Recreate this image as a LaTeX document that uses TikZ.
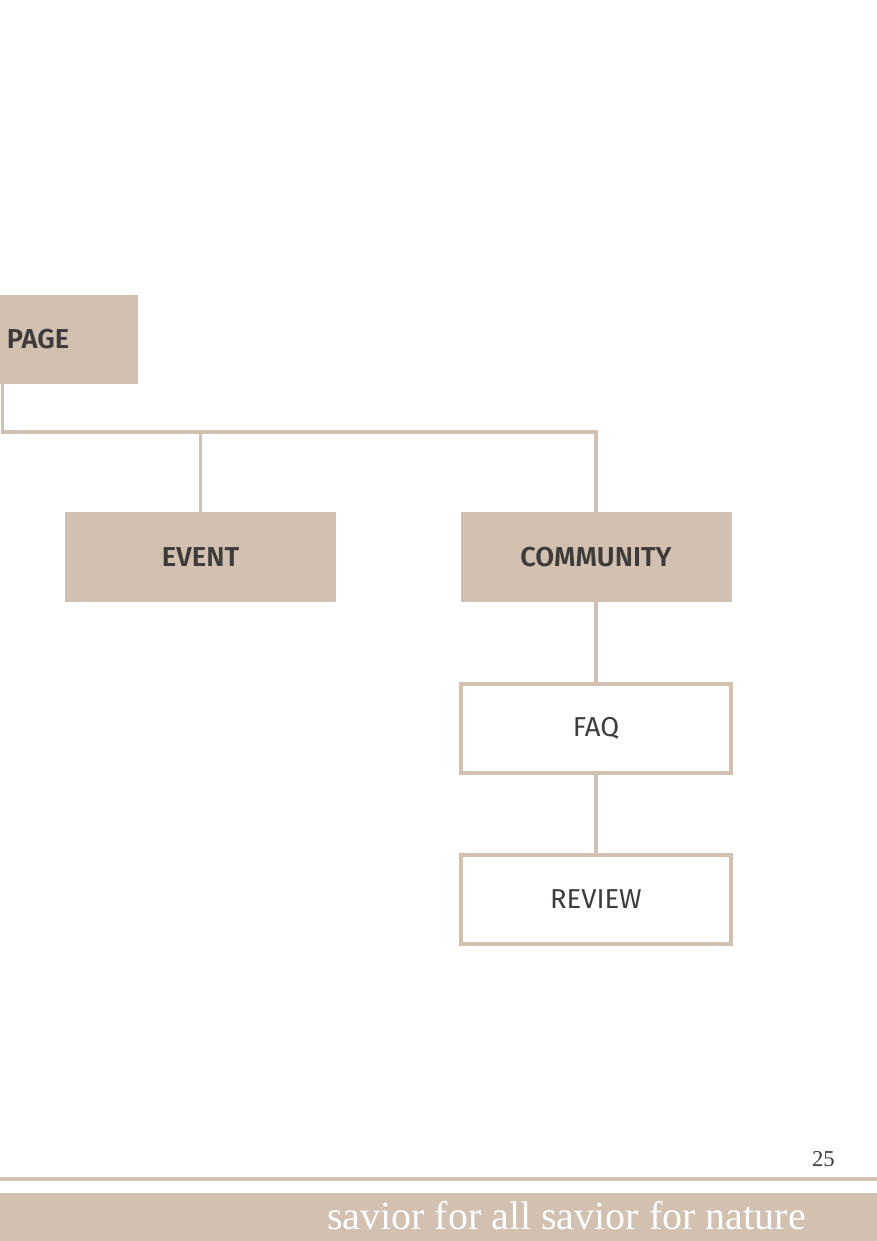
\documentclass[tikz,border=0pt]{standalone}
\usepackage{fontspec}
\setmainfont{Fira Sans}[BoldFont={Fira Sans SemiBold}]
\newfontfamily\footerfont{Liberation Serif}
\usetikzlibrary{positioning}

\definecolor{sand}{HTML}{D2C0B0}
\definecolor{ink}{HTML}{403B3B}
\newdimen\pxu \pxu=0.75pt

\tikzset{
  menu/.style={fill=sand, text=ink, font=\fontsize{20.5}{24}\selectfont\bfseries,
    minimum width=271\pxu, minimum height=90\pxu, inner sep=0pt, outer sep=0pt},
  submenu/.style={draw=sand, line width=4\pxu, fill=white, text=ink,
    font=\fontsize{20.5}{24}\selectfont,
    minimum width=270\pxu, minimum height=89\pxu, inner sep=0pt, outer sep=0pt},
  link/.style={draw=sand, line width=3.5\pxu},
}

\begin{document}
\begin{tikzpicture}[x=0.75pt, y=-0.75pt, node distance=82\pxu]
    \useasboundingbox (0,0) rectangle (877,1241);

    \node[menu, anchor=north west, minimum width=138\pxu, minimum height=89\pxu,
          text width=124\pxu, align=left, inner xsep=7\pxu] (page) at (0,295) {PAGE};
    \node[menu] (event) at (200.5,557) {EVENT};
    \node[menu] (comm) at (596,557) {COMMUNITY};
    \node[submenu, below=of comm] (faq) {FAQ};
    \node[submenu, below=of faq] (review) {REVIEW};

    \coordinate (hub) at (2.5,432);
    \draw[link] (page.south -| hub) -- (hub) -| (comm.north);
    \draw[link] (hub -| event.north) -- (event.north);
    \draw[link] (comm.south) -- (faq.north);
    \draw[link] (faq.south) -- (review.north);

    \draw[sand, line width=4\pxu] (0,1179) -- (877,1179);
    \fill[sand] (0,1193) rectangle (877,1241);
    \node[anchor=base east, text=white, inner sep=0pt,
          font=\footerfont\fontsize{30}{36}\selectfont] (motto) at (806,1229) {savior for all savior for nature};
    \node[anchor=base east, text=ink, inner sep=0pt,
          font=\footerfont\fontsize{17}{20}\selectfont] (pagenum) at (835,1166) {25};
\end{tikzpicture}
\end{document}
